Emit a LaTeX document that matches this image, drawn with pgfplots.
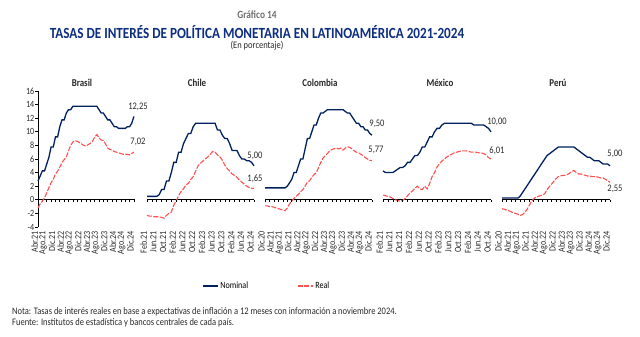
\documentclass[border=0pt]{standalone}
\usepackage{fontspec}
\setmainfont{Carlito}[FakeStretch=0.85]
\usepackage{pgfplots}
\pgfplotsset{compat=1.18}
\definecolor{nom}{RGB}{0,32,96}
\definecolor{rea}{RGB}{255,80,80}
\definecolor{tit}{RGB}{12,45,130}
\definecolor{gr}{RGB}{110,110,110}
\definecolor{txt}{RGB}{40,40,40}
\newcommand\rl[1]{\rotatebox{90}{#1}}
\pgfplotsset{
 panel/.style={
  scale only axis, height=136pt, ymin=-4, ymax=16, clip=false, anchor=south west,
  axis x line=middle, axis y line=left,
  axis line style={-, black, line width=0.9pt},
  xtick align=outside, ytick align=outside, major tick length=2.5pt,
  tick style={black, line width=0.6pt},
  xticklabels={},
  ytick={-4,-2,...,16},
  hide obscured x ticks=false,
  /pgf/number format/assume math mode=true,
 },
 hpanel/.style={
  scale only axis, height=136pt, ymin=-4, ymax=16, clip=false, anchor=south west, hide axis,
 },
 zl/.style={black, line width=0.9pt, forget plot},
 zt/.style={black, forget plot, only marks, mark=|, mark size=1.25pt, mark options={yshift=-1.25pt, line width=0.6pt}},
 lab/.style={
  scale only axis, height=1pt, ymin=0, ymax=1, anchor=south west,
  axis x line=bottom, axis y line=none, x axis line style={draw=none},
  major tick length=0pt, tick style={draw=none},
  xticklabel style={font=\fontsize{9.5}{10}\selectfont, inner sep=0pt, text=txt},
 },
 nomst/.style={nom, line width=1.3pt},
 reast/.style={rea, line width=1.1pt, dash pattern=on 5pt off 1.5pt},
}
\begin{document}
\begin{tikzpicture}
\useasboundingbox (0,0) rectangle (640pt,337pt);
% ---------- Brasil ----------
\begin{axis}[panel, at={(38pt,110pt)}, width=97pt,
  xmin=0, xmax=44.5, xtick={0,2,...,44},
  yticklabel style={font=\fontsize{9.5}{10}\selectfont, text=txt, inner sep=1pt},
  legend style={at={(axis description cs:1.69,-0.434)}, anchor=west, draw=none, fill=none,
    font=\fontsize{9.5}{10}\selectfont, legend columns=2, inner sep=0pt,
    /tikz/every even column/.append style={column sep=47pt}},
  legend image code/.code={\draw[#1] (0pt,0pt) -- (15pt,0pt);},
]
\addplot[nomst] coordinates {(0,2.75)(1,3.5)(2,4.25)(3,4.25)(4,5.25)(5,6.25)(6,7.75)(7,7.75)(8,9.25)(9,9.25)(10,10.75)(11,11.75)(12,11.75)(13,12.75)(14,13.25)(15,13.25)(16,13.75)(17,13.75)(18,13.75)(19,13.75)(20,13.75)(21,13.75)(22,13.75)(23,13.75)(24,13.75)(25,13.75)(26,13.75)(27,13.75)(28,13.25)(29,12.75)(30,12.75)(31,12.25)(32,11.75)(33,11.75)(34,11.25)(35,10.75)(36,10.75)(37,10.5)(38,10.5)(39,10.5)(40,10.5)(41,10.75)(42,10.75)(43,11.25)(44,12.25)};
\addlegendentry{Nominal}
\addplot[reast] coordinates {(0,-1.2)(1,-0.6)(2,-0.2)(3,0.3)(4,1.0)(5,1.8)(6,2.5)(7,3.0)(8,3.8)(9,4.2)(10,4.8)(11,5.5)(12,5.9)(13,6.3)(14,7.2)(15,8.0)(16,8.5)(17,8.7)(18,8.6)(19,8.4)(20,8.2)(21,8.0)(22,7.9)(23,8.1)(24,8.3)(25,8.6)(26,9.2)(27,9.6)(28,9.1)(29,8.8)(30,8.7)(31,8.2)(32,7.6)(33,7.4)(34,7.3)(35,7.1)(36,7.0)(37,6.9)(38,6.8)(39,6.7)(40,6.7)(41,6.7)(42,6.6)(43,6.8)(44,7.02)};
\addlegendentry{Real}
\end{axis}
\begin{axis}[lab, at={(34.5pt,106pt)}, width=97pt, xmin=0, xmax=44.5, xtick={0,4,...,44},
  xticklabels={\rl{Abr.21},\rl{Ago.21},\rl{Dic.21},\rl{Abr.22},\rl{Ago.22},\rl{Dic.22},\rl{Abr.23},\rl{Ago.23},\rl{Dic.23},\rl{Abr.24},\rl{Ago.24},\rl{Dic.24}}]
\end{axis}
% ---------- Chile ----------
\begin{axis}[hpanel, at={(147pt,110pt)}, width=107pt, xmin=0, xmax=44]
\addplot[zl] coordinates {(0,0)(44,0)};
\addplot[zt] coordinates {(0,0)(2,0)(4,0)(6,0)(8,0)(10,0)(12,0)(14,0)(16,0)(18,0)(20,0)(22,0)(24,0)(26,0)(28,0)(30,0)(32,0)(34,0)(36,0)(38,0)(40,0)(42,0)(44,0)};
\addplot[nomst] coordinates {(0,0.5)(1,0.5)(2,0.5)(3,0.5)(4,0.5)(5,0.75)(6,1.5)(7,1.5)(8,2.75)(9,2.75)(10,4.0)(11,5.5)(12,5.5)(13,7.0)(14,7.0)(15,8.25)(16,9.0)(17,9.75)(18,9.75)(19,10.75)(20,11.25)(21,11.25)(22,11.25)(23,11.25)(24,11.25)(25,11.25)(26,11.25)(27,11.25)(28,11.25)(29,10.25)(30,10.25)(31,9.5)(32,9.0)(33,9.0)(34,8.25)(35,7.25)(36,7.25)(37,7.25)(38,6.5)(39,6.0)(40,6.0)(41,5.75)(42,5.75)(43,5.5)(44,5.0)};
\addplot[reast] coordinates {(0,-2.3)(1,-2.4)(2,-2.4)(3,-2.5)(4,-2.5)(5,-2.5)(6,-2.6)(7,-2.7)(8,-2.3)(9,-2.0)(10,-1.8)(11,-0.8)(12,-0.2)(13,0.6)(14,1.2)(15,1.6)(16,2.2)(17,2.4)(18,3.0)(19,3.4)(20,4.2)(21,5.0)(22,5.4)(23,5.7)(24,6.0)(25,6.3)(26,6.7)(27,7.1)(28,7.0)(29,6.6)(30,6.3)(31,5.8)(32,5.1)(33,4.6)(34,4.2)(35,3.8)(36,3.6)(37,3.3)(38,2.9)(39,2.6)(40,2.3)(41,2.0)(42,1.8)(43,1.7)(44,1.65)};
\end{axis}
\begin{axis}[lab, at={(143.5pt,106pt)}, width=107pt, xmin=0, xmax=44, xtick={0,4,...,44},
  xticklabels={\rl{Feb.21},\rl{Jun.21},\rl{Oct.21},\rl{Feb.22},\rl{Jun.22},\rl{Oct.22},\rl{Feb.23},\rl{Jun.23},\rl{Oct.23},\rl{Feb.24},\rl{Jun.24},\rl{Oct.24}}]
\end{axis}
% ---------- Colombia ----------
\begin{axis}[hpanel, at={(265pt,110pt)}, width=107pt, xmin=0, xmax=48]
\addplot[zl] coordinates {(0,0)(48,0)};
\addplot[zt] coordinates {(0,0)(2,0)(4,0)(6,0)(8,0)(10,0)(12,0)(14,0)(16,0)(18,0)(20,0)(22,0)(24,0)(26,0)(28,0)(30,0)(32,0)(34,0)(36,0)(38,0)(40,0)(42,0)(44,0)(46,0)(48,0)};
\addplot[nomst] coordinates {(0,1.75)(1,1.75)(2,1.75)(3,1.75)(4,1.75)(5,1.75)(6,1.75)(7,1.75)(8,1.75)(9,1.75)(10,2.0)(11,2.5)(12,3.0)(13,4.0)(14,4.0)(15,5.0)(16,6.0)(17,6.0)(18,7.5)(19,9.0)(20,9.0)(21,10.0)(22,11.0)(23,11.0)(24,12.0)(25,12.75)(26,12.75)(27,13.0)(28,13.25)(29,13.25)(30,13.25)(31,13.25)(32,13.25)(33,13.25)(34,13.25)(35,13.25)(36,13.0)(37,12.75)(38,12.75)(39,12.25)(40,11.75)(41,11.25)(42,11.25)(43,10.75)(44,10.75)(45,10.25)(46,10.25)(47,9.75)(48,9.5)};
\addplot[reast] coordinates {(0,-0.9)(1,-0.9)(2,-1.0)(3,-1.0)(4,-1.1)(5,-1.2)(6,-1.3)(7,-1.4)(8,-1.5)(9,-1.6)(10,-1.2)(11,-0.6)(12,-0.2)(13,0.2)(14,0.5)(15,0.8)(16,1.2)(17,1.5)(18,2.0)(19,2.6)(20,2.8)(21,3.3)(22,3.7)(23,4.0)(24,4.7)(25,5.5)(26,6.1)(27,6.5)(28,6.8)(29,7.2)(30,7.4)(31,7.5)(32,7.6)(33,7.5)(34,7.6)(35,7.3)(36,7.6)(37,7.8)(38,7.7)(39,7.5)(40,7.2)(41,7.0)(42,6.9)(43,6.7)(44,6.5)(45,6.2)(46,6.0)(47,5.8)(48,5.77)};
\end{axis}
\begin{axis}[lab, at={(261.5pt,106pt)}, width=107pt, xmin=0, xmax=48, xtick={0,4,...,48},
  xticklabels={\rl{Dic.20},\rl{Abr.21},\rl{Ago.21},\rl{Dic.21},\rl{Abr.22},\rl{Ago.22},\rl{Dic.22},\rl{Abr.23},\rl{Ago.23},\rl{Dic.23},\rl{Abr.24},\rl{Ago.24},\rl{Dic.24}}]
\end{axis}
% ---------- Mexico ----------
\begin{axis}[hpanel, at={(383pt,110pt)}, width=108pt, xmin=0, xmax=44]
\addplot[zl] coordinates {(0,0)(44,0)};
\addplot[zt] coordinates {(0,0)(2,0)(4,0)(6,0)(8,0)(10,0)(12,0)(14,0)(16,0)(18,0)(20,0)(22,0)(24,0)(26,0)(28,0)(30,0)(32,0)(34,0)(36,0)(38,0)(40,0)(42,0)(44,0)};
\addplot[nomst] coordinates {(0,4.25)(1,4.0)(2,4.0)(3,4.0)(4,4.0)(5,4.25)(6,4.5)(7,4.75)(8,4.75)(9,5.0)(10,5.5)(11,5.5)(12,6.0)(13,6.5)(14,6.5)(15,7.0)(16,7.75)(17,7.75)(18,8.5)(19,9.25)(20,9.25)(21,10.0)(22,10.5)(23,10.5)(24,11.0)(25,11.25)(26,11.25)(27,11.25)(28,11.25)(29,11.25)(30,11.25)(31,11.25)(32,11.25)(33,11.25)(34,11.25)(35,11.25)(36,11.25)(37,11.0)(38,11.0)(39,11.0)(40,11.0)(41,11.0)(42,10.75)(43,10.5)(44,10.0)};
\addplot[reast] coordinates {(0,0.7)(1,0.6)(2,0.5)(3,0.4)(4,0.2)(5,0.0)(6,-0.1)(7,-0.2)(8,-0.1)(9,0.2)(10,0.6)(11,1.0)(12,1.3)(13,1.7)(14,2.0)(15,1.6)(16,1.5)(17,2.0)(18,1.6)(19,2.4)(20,3.4)(21,4.0)(22,4.8)(23,5.3)(24,5.7)(25,6.0)(26,6.3)(27,6.5)(28,6.7)(29,6.9)(30,7.0)(31,7.1)(32,7.2)(33,7.2)(34,7.2)(35,7.1)(36,7.0)(37,7.0)(38,7.0)(39,6.9)(40,6.9)(41,6.8)(42,6.6)(43,6.2)(44,6.01)};
\end{axis}
\begin{axis}[lab, at={(379.5pt,106pt)}, width=108pt, xmin=0, xmax=44, xtick={0,4,...,44},
  xticklabels={\rl{Feb.21},\rl{Jun.21},\rl{Oct.21},\rl{Feb.22},\rl{Jun.22},\rl{Oct.22},\rl{Feb.23},\rl{Jun.23},\rl{Oct.23},\rl{Feb.24},\rl{Jun.24},\rl{Oct.24}}]
\end{axis}
% ---------- Peru ----------
\begin{axis}[hpanel, at={(502pt,110pt)}, width=108pt, xmin=0, xmax=48]
\addplot[zl] coordinates {(0,0)(48,0)};
\addplot[zt] coordinates {(0,0)(2,0)(4,0)(6,0)(8,0)(10,0)(12,0)(14,0)(16,0)(18,0)(20,0)(22,0)(24,0)(26,0)(28,0)(30,0)(32,0)(34,0)(36,0)(38,0)(40,0)(42,0)(44,0)(46,0)(48,0)};
\addplot[nomst] coordinates {(0,0.25)(1,0.25)(2,0.25)(3,0.25)(4,0.25)(5,0.25)(6,0.25)(7,0.25)(8,0.5)(9,1.0)(10,1.5)(11,2.0)(12,2.5)(13,3.0)(14,3.5)(15,4.0)(16,4.5)(17,5.0)(18,5.5)(19,6.0)(20,6.5)(21,6.75)(22,7.0)(23,7.25)(24,7.5)(25,7.75)(26,7.75)(27,7.75)(28,7.75)(29,7.75)(30,7.75)(31,7.75)(32,7.75)(33,7.5)(34,7.25)(35,7.0)(36,6.75)(37,6.5)(38,6.25)(39,6.25)(40,6.0)(41,5.75)(42,5.75)(43,5.75)(44,5.5)(45,5.25)(46,5.25)(47,5.25)(48,5.0)};
\addplot[reast] coordinates {(0,-1.3)(1,-1.4)(2,-1.5)(3,-1.6)(4,-1.75)(5,-1.9)(6,-2.0)(7,-2.1)(8,-2.3)(9,-2.2)(10,-1.9)(11,-1.5)(12,-0.9)(13,-0.3)(14,0.1)(15,0.4)(16,0.5)(17,0.6)(18,0.7)(19,0.9)(20,1.5)(21,1.9)(22,2.3)(23,2.7)(24,3.1)(25,3.4)(26,3.5)(27,3.6)(28,3.6)(29,3.7)(30,3.9)(31,4.2)(32,4.3)(33,4.0)(34,3.8)(35,3.8)(36,3.7)(37,3.6)(38,3.5)(39,3.5)(40,3.4)(41,3.4)(42,3.4)(43,3.3)(44,3.2)(45,3.2)(46,3.0)(47,2.8)(48,2.55)};
\end{axis}
\begin{axis}[lab, at={(498.5pt,106pt)}, width=108pt, xmin=0, xmax=48, xtick={0,4,...,48},
  xticklabels={\rl{Dic.20},\rl{Abr.21},\rl{Ago.21},\rl{Dic.21},\rl{Abr.22},\rl{Ago.22},\rl{Dic.22},\rl{Abr.23},\rl{Ago.23},\rl{Dic.23},\rl{Abr.24},\rl{Ago.24},\rl{Dic.24}}]
\end{axis}
% ---------- titles ----------
\node[text=gr, font=\bfseries\fontsize{11}{12}\selectfont] at (257pt,322pt) {Gráfico 14};
\node[text=tit, font=\bfseries\fontsize{15.5}{16}\selectfont] at (257pt,305pt) {TASAS DE INTERÉS DE POLÍTICA MONETARIA EN LATINOAMÉRICA 2021-2024};
\node[text=txt, font=\fontsize{10}{11}\selectfont] at (257pt,291pt) {(En porcentaje)};
\foreach \x/\t in {82/Brasil,197/Chile,320/Colombia,440/México,558/Perú}
  \node[text=txt, font=\bfseries\fontsize{10.5}{11}\selectfont] at (\x pt,254pt) {\t};
% ---------- end values ----------
\begin{scope}[every node/.style={text=txt, font=\fontsize{10}{11}\selectfont}]
\node at (138pt,230pt) {12,25};
\node at (138pt,195pt) {7,02};
\node at (255pt,181pt) {5,00};
\node at (255pt,158pt) {1,65};
\node at (377pt,213pt) {9,50};
\node at (376pt,187pt) {5,77};
\node at (497pt,215pt) {10,00};
\node at (497pt,186pt) {6,01};
\node at (615pt,183pt) {5,00};
\node at (615pt,148pt) {2,55};
\end{scope}
% ---------- notes ----------
\node[anchor=west, text=txt, font=\fontsize{10}{11}\selectfont, inner sep=0pt] at (12pt,25pt) {Nota: Tasas de interés reales en base a expectativas de inflación a 12 meses con información a noviembre 2024.};
\node[anchor=west, text=txt, font=\fontsize{10}{11}\selectfont, inner sep=0pt] at (12pt,14pt) {Fuente: Institutos de estadística y bancos centrales de cada país.};
\end{tikzpicture}
\end{document}
